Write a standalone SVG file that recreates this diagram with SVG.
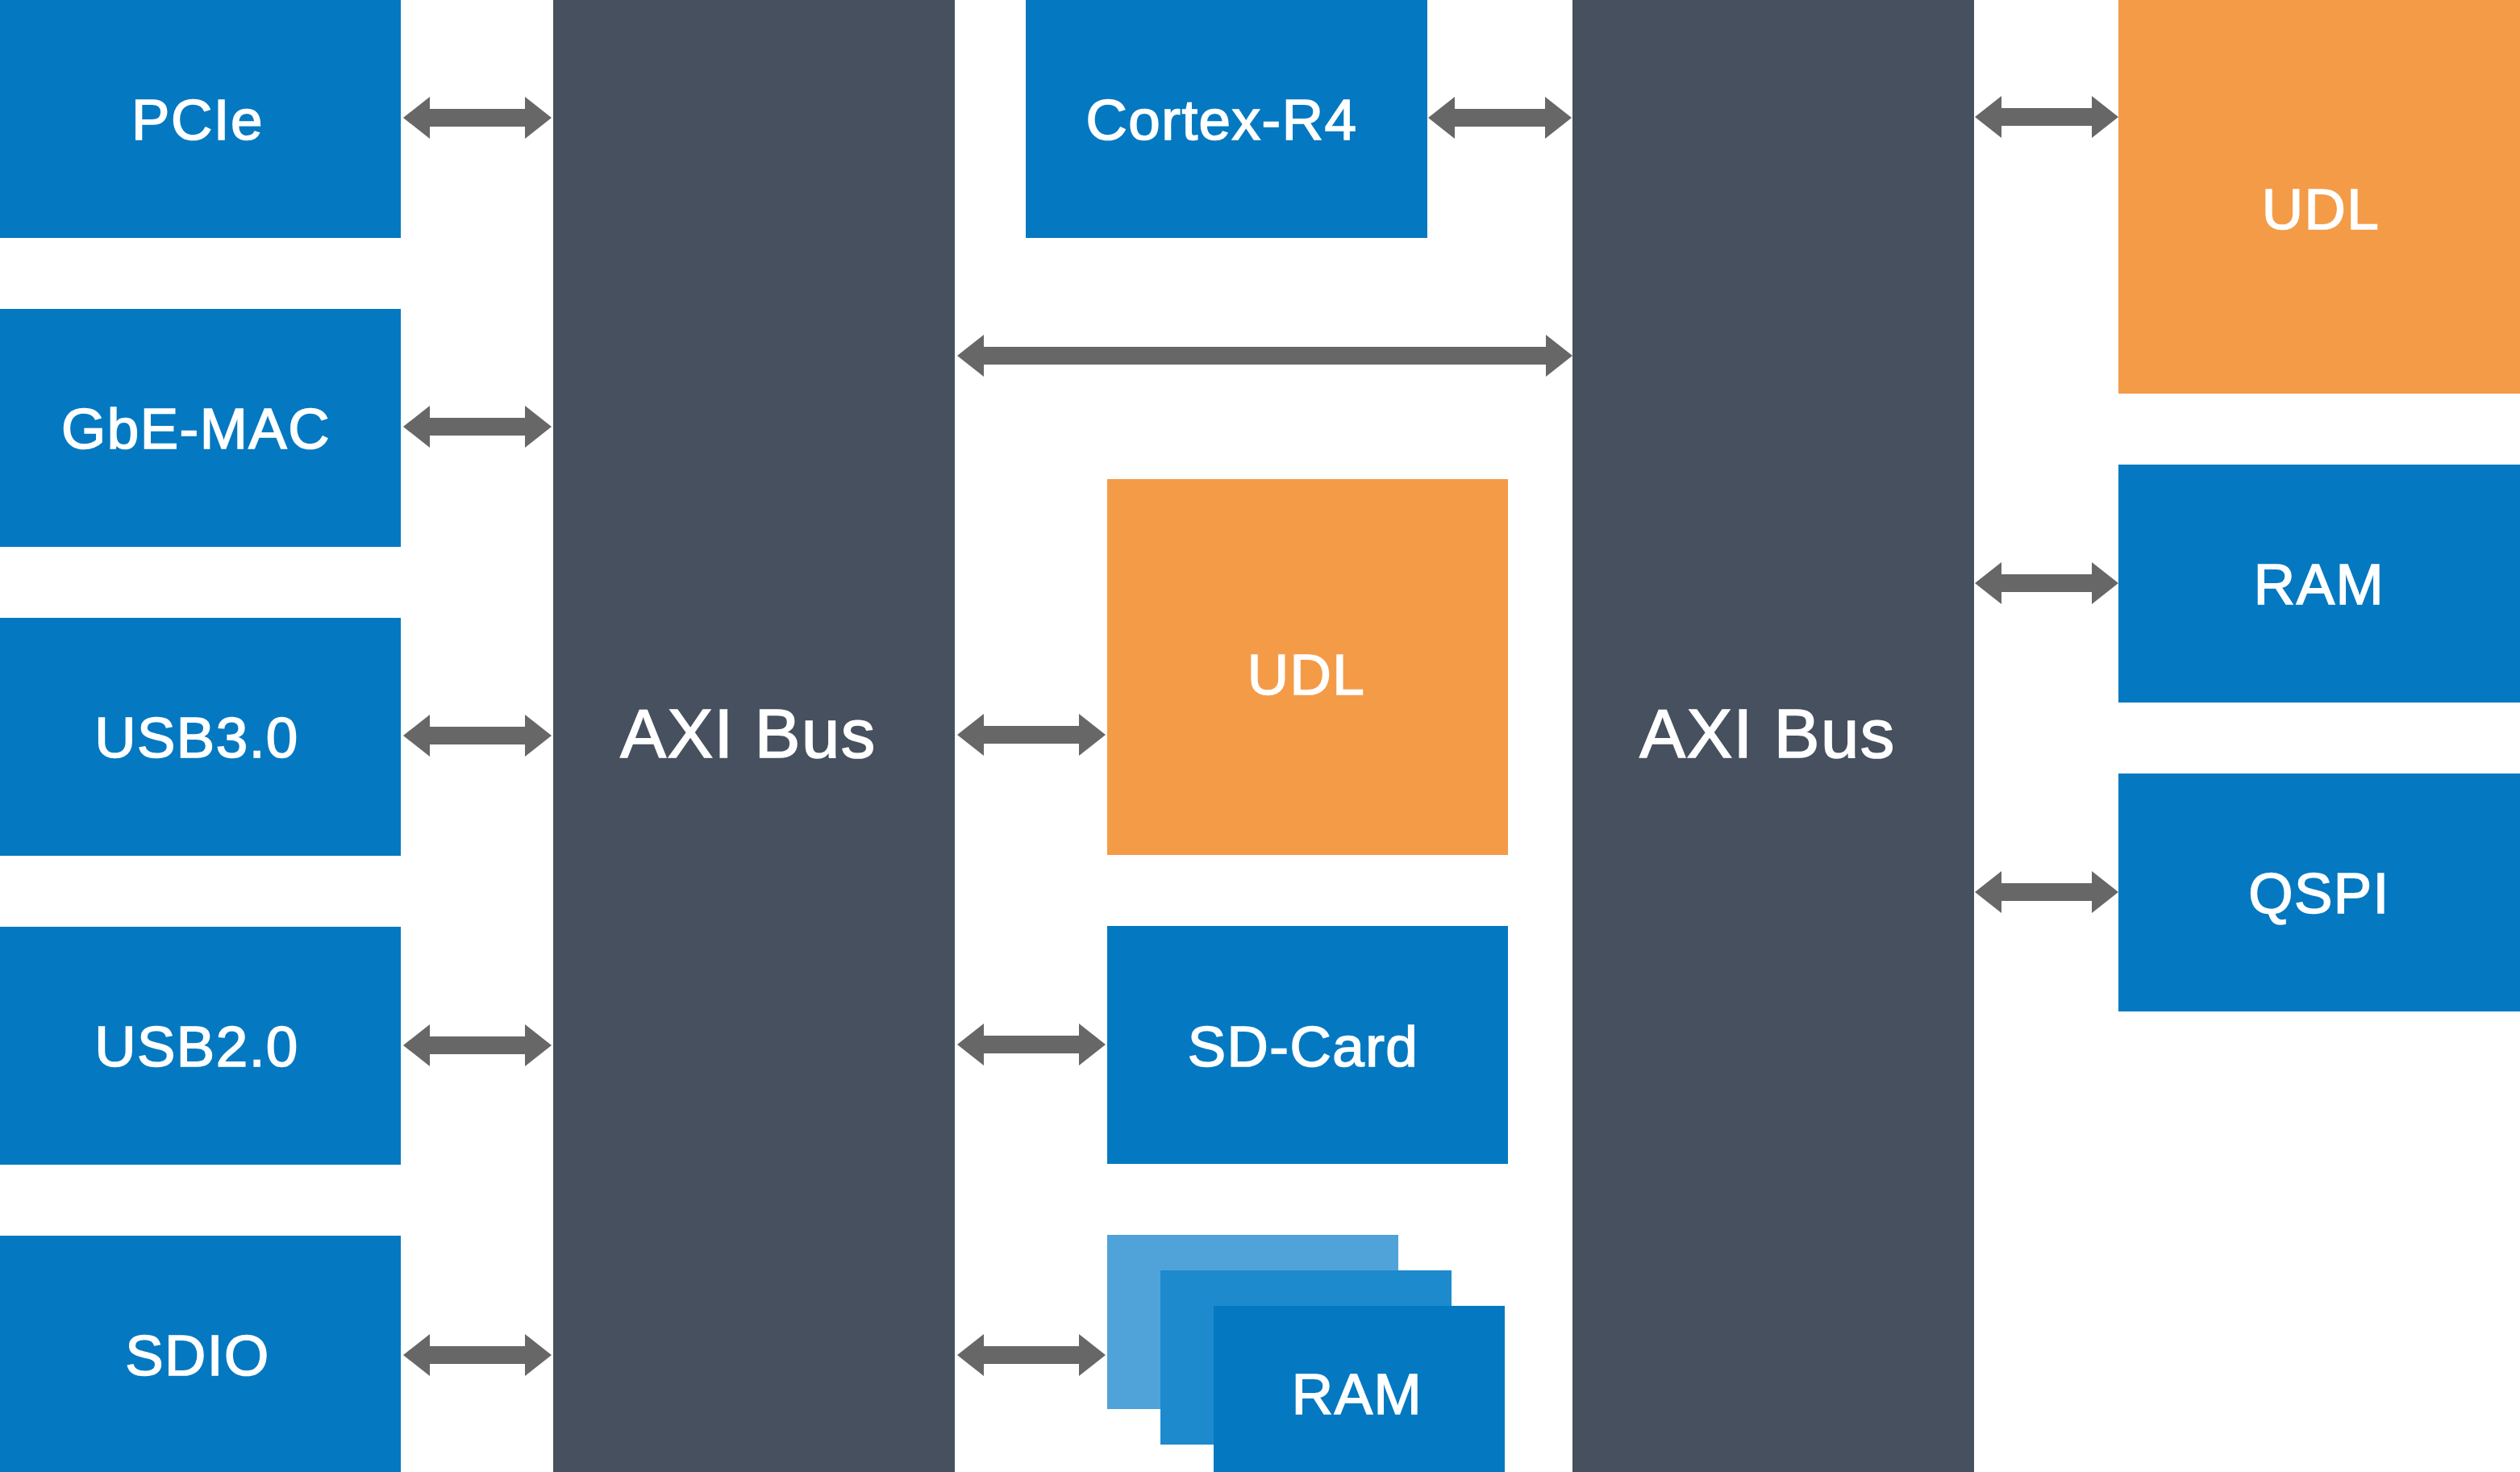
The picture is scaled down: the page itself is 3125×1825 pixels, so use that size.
<svg xmlns="http://www.w3.org/2000/svg" width="3125" height="1825" viewBox="0 0 3125 1825">
<style>
.blue{fill:#0479C1}
.orange{fill:#F49B48}
.bus{fill:#46505E}
.arrow{fill:#676767}
text{font-family:"Liberation Sans",Arial,Helvetica,sans-serif;fill:#FFFFFF;stroke:#FFFFFF;stroke-width:1.6px;text-anchor:middle}
.lbl{font-size:71px;letter-spacing:1.5px}
.big{font-size:85px;letter-spacing:1.5px}
</style>
<rect width="3125" height="1825" fill="#FFFFFF"/>
<g id="pcie"><rect class="blue" x="0" y="0" width="497" height="295"/><text class="lbl" x="245" y="173">PCIe</text></g>
<g id="gbe-mac"><rect class="blue" x="0" y="383" width="497" height="295"/><text class="lbl" x="243" y="556">GbE-MAC</text></g>
<g id="usb30"><rect class="blue" x="0" y="766" width="497" height="295"/><text class="lbl" x="244" y="939">USB3.0</text></g>
<g id="usb20"><rect class="blue" x="0" y="1149" width="497" height="295"/><text class="lbl" x="244" y="1322">USB2.0</text></g>
<g id="sdio"><rect class="blue" x="0" y="1532" width="497" height="295"/><text class="lbl" x="245" y="1705">SDIO</text></g>
<g id="axi-bus-1"><rect class="bus" x="686" y="0" width="498" height="1825"/><text class="big" x="928" y="939">AXI Bus</text></g>
<g id="cortex-r4"><rect class="blue" x="1272" y="0" width="498" height="295"/><text class="lbl" x="1515" y="173">Cortex-R4</text></g>
<g id="udl-mid"><rect class="orange" x="1373" y="594" width="497" height="466"/><text class="lbl" x="1620" y="861">UDL</text></g>
<g id="sd-card"><rect class="blue" x="1373" y="1148" width="497" height="295"/><text class="lbl" x="1616" y="1322">SD-Card</text></g>
<g id="ram-stack">
<rect fill="#4FA3D8" x="1373" y="1531" width="361" height="216"/>
<rect fill="#1E8ACE" x="1439" y="1575" width="361" height="216"/>
<rect class="blue" x="1505" y="1619" width="361" height="216"/>
<text class="lbl" x="1683" y="1753">RAM</text>
</g>
<g id="axi-bus-2"><rect class="bus" x="1950" y="0" width="498" height="1825"/><text class="big" x="2192" y="939">AXI Bus</text></g>
<g id="udl-right"><rect class="orange" x="2627" y="0" width="498" height="488"/><text class="lbl" x="2878" y="284">UDL</text></g>
<g id="ram-right"><rect class="blue" x="2627" y="576" width="498" height="295"/><text class="lbl" x="2876" y="749">RAM</text></g>
<g id="qspi"><rect class="blue" x="2627" y="959" width="498" height="295"/><text class="lbl" x="2876" y="1132">QSPI</text></g>
<g id="connectors" class="arrow">
<path d="M500 146 L533 120 L533 135 L651 135 L651 120 L684 146 L651 172 L651 157 L533 157 L533 172 Z"/>
<path d="M500 529 L533 503 L533 518 L651 518 L651 503 L684 529 L651 555 L651 540 L533 540 L533 555 Z"/>
<path d="M500 912 L533 886 L533 901 L651 901 L651 886 L684 912 L651 938 L651 923 L533 923 L533 938 Z"/>
<path d="M500 1296 L533 1270 L533 1285 L651 1285 L651 1270 L684 1296 L651 1322 L651 1307 L533 1307 L533 1322 Z"/>
<path d="M500 1680 L533 1654 L533 1669 L651 1669 L651 1654 L684 1680 L651 1706 L651 1691 L533 1691 L533 1706 Z"/>
<path d="M1187 441 L1220 415 L1220 430 L1917 430 L1917 415 L1950 441 L1917 467 L1917 452 L1220 452 L1220 467 Z"/>
<path d="M1771 146 L1804 120 L1804 135 L1916 135 L1916 120 L1949 146 L1916 172 L1916 157 L1804 157 L1804 172 Z"/>
<path d="M1187 911 L1220 885 L1220 900 L1338 900 L1338 885 L1371 911 L1338 937 L1338 922 L1220 922 L1220 937 Z"/>
<path d="M1187 1295 L1220 1269 L1220 1284 L1338 1284 L1338 1269 L1371 1295 L1338 1321 L1338 1306 L1220 1306 L1220 1321 Z"/>
<path d="M1187 1680 L1220 1654 L1220 1669 L1338 1669 L1338 1654 L1371 1680 L1338 1706 L1338 1691 L1220 1691 L1220 1706 Z"/>
<path d="M2449 145 L2482 119 L2482 134 L2594 134 L2594 119 L2627 145 L2594 171 L2594 156 L2482 156 L2482 171 Z"/>
<path d="M2449 723 L2482 697 L2482 712 L2594 712 L2594 697 L2627 723 L2594 749 L2594 734 L2482 734 L2482 749 Z"/>
<path d="M2449 1106 L2482 1080 L2482 1095 L2594 1095 L2594 1080 L2627 1106 L2594 1132 L2594 1117 L2482 1117 L2482 1132 Z"/>
</g>
</svg>
